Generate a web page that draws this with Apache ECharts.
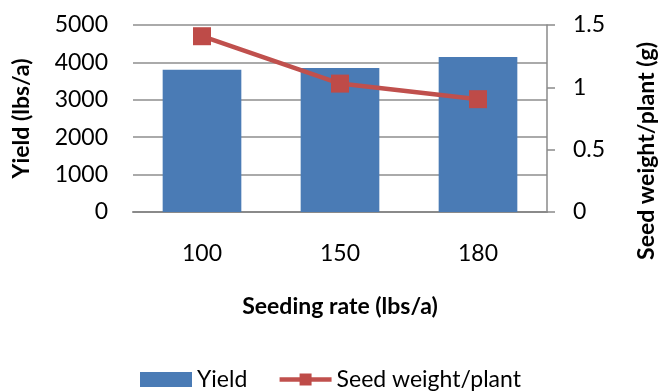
<!DOCTYPE html>
<html>
<head>
<meta charset="utf-8">
<script src="https://cdn.jsdelivr.net/npm/echarts@6/dist/echarts.min.js"></script>
<style>
  html, body { margin: 0; padding: 0; background: #fff; }
  #chart { width: 660px; height: 392px; }
</style>
</head>
<body>
<div id="chart"></div>
<script>
// Seeding rate trial: yield (bars, left axis) and seed weight per plant (line, right axis)
const categories = ['100', '150', '180'];
const yieldValues = [3805, 3850, 4144];
const seedWeight = [1.41, 1.03, 0.905];
const yieldTicks = [0, 1000, 2000, 3000, 4000, 5000];
const weightTicks = [0, 0.5, 1, 1.5];

const FONT = 'Lato';
const FS = 23;
const chart = echarts.init(document.getElementById('chart'));

chart.setOption({
  animation: false,
  textStyle: { fontFamily: FONT, color: '#000' },
  grid: { left: 133, right: 113, top: 25, bottom: 180, containLabel: false },
  legend: {
    left: 135,
    top: 363,
    itemGap: 30,
    itemWidth: 52,
    itemHeight: 15,
    textStyle: { fontFamily: FONT, fontSize: FS, color: '#000' },
    data: [
      { name: 'Yield', icon: 'rect' },
      { name: 'Seed weight/plant', lineStyle: { width: 4.5, color: '#c0504d' } }
    ]
  },
  xAxis: {
    type: 'category',
    data: categories,
    name: 'Seeding rate (lbs/a)',
    nameLocation: 'middle',
    nameGap: 83,
    nameTextStyle: { fontFamily: FONT, fontSize: FS, fontWeight: 'bold', color: '#000' },
    axisLine: { lineStyle: { color: '#8a8a8a', width: 2 } },
    axisTick: { show: false },
    axisLabel: { margin: 30, fontSize: FS, color: '#000', fontFamily: FONT }
  },
  yAxis: [
    {
      type: 'value',
      min: yieldTicks[0],
      max: yieldTicks[yieldTicks.length - 1],
      interval: yieldTicks[1] - yieldTicks[0],
      name: 'Yield (lbs/a)',
      nameLocation: 'middle',
      nameGap: 100,
      nameTextStyle: { fontFamily: FONT, fontSize: FS, fontWeight: 'bold', color: '#000' },
      axisLine: { show: false },
      axisTick: { show: false },
      axisLabel: { margin: 25, fontSize: FS, color: '#000', fontFamily: FONT, formatter: v => String(v) },
      splitLine: { lineStyle: { color: '#8e8e8e', width: 1.5 } }
    },
    {
      type: 'value',
      position: 'right',
      min: weightTicks[0],
      max: weightTicks[weightTicks.length - 1],
      interval: weightTicks[1] - weightTicks[0],
      axisLine: { show: true, lineStyle: { color: '#8a8a8a', width: 1.5 } },
      axisTick: { show: true, inside: false, length: 8, lineStyle: { color: '#8a8a8a', width: 1.5 } },
      axisLabel: { margin: 26, fontSize: FS, color: '#000', fontFamily: FONT, formatter: v => String(v) },
      splitLine: { show: false }
    }
  ],
  graphic: [
    {
      type: 'text',
      x: 647,
      y: 151,
      rotation: Math.PI / 2,
      style: {
        text: 'Seed weight/plant (g)',
        fontFamily: FONT,
        fontSize: FS,
        fontWeight: 'bold',
        fill: '#000',
        align: 'center',
        verticalAlign: 'middle'
      }
    }
  ],
  series: [
    {
      name: 'Yield',
      type: 'bar',
      yAxisIndex: 0,
      data: yieldValues,
      barWidth: '57%',
      itemStyle: { color: '#4a7bb5' }
    },
    {
      name: 'Seed weight/plant',
      type: 'line',
      yAxisIndex: 1,
      data: seedWeight,
      symbol: 'rect',
      symbolSize: 18,
      lineStyle: { color: '#c0504d', width: 4.5 },
      itemStyle: { color: '#be4b48' }
    }
  ]
});
</script>
</body>
</html>
